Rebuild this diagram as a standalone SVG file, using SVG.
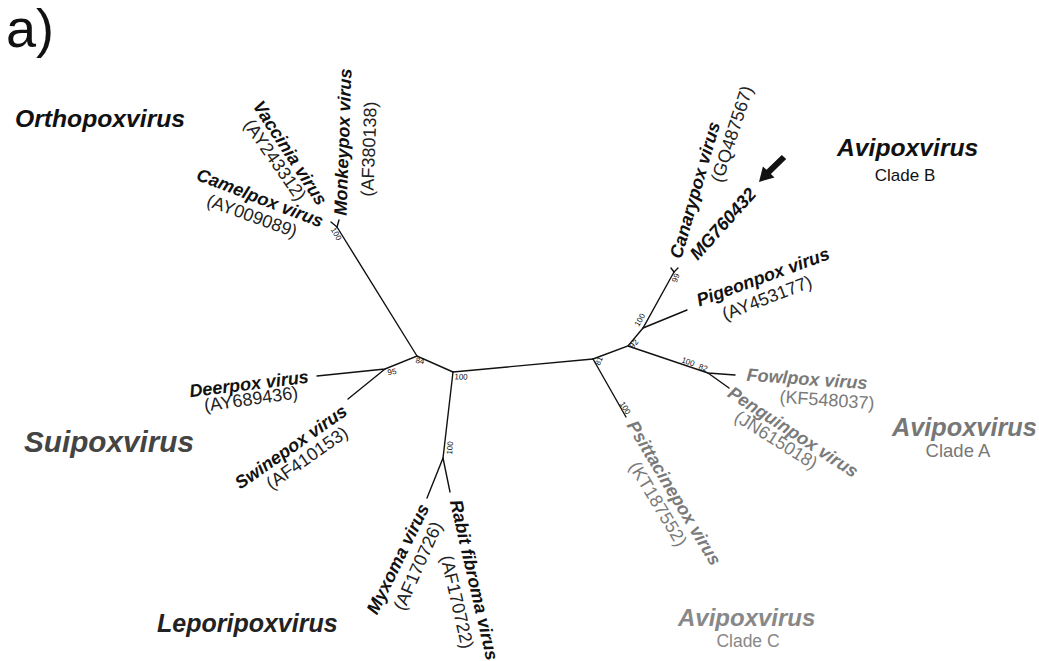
<svg xmlns="http://www.w3.org/2000/svg" width="1039" height="661" viewBox="0 0 1039 661">
<style>
.sp{font-family:"Liberation Sans",Arial,sans-serif;font-size:18px;font-weight:bold;font-style:italic;fill:#111;text-anchor:middle;dominant-baseline:central}
.ac{font-family:"Liberation Sans",Arial,sans-serif;font-size:18px;fill:#222;text-anchor:middle;dominant-baseline:central}
.g{fill:#7a7a7a}
.grp{font-family:"Liberation Sans",Arial,sans-serif;font-weight:bold;font-style:italic}
.cl{font-family:"Liberation Sans",Arial,sans-serif;text-anchor:middle}
.bs{font-family:"Liberation Sans",Arial,sans-serif;font-size:8px;fill:#111;text-anchor:middle;dominant-baseline:central}
.br{stroke:#111;stroke-width:1.4;fill:none;stroke-linecap:round}
</style>
<rect width="1039" height="661" fill="#fff"/>
<text x="6" y="47" font-family="Liberation Sans, Arial, sans-serif" font-size="54" fill="#111">a)</text>

<g id="connectors" class="br">
<path d="M453,372 L593,359"/>
<path d="M453,372 L417,356 L385,369 L317,376"/>
<path d="M385,369 L348,399"/>
<path d="M417,356 L337,227"/>
<path d="M337,227 L331,222"/>
<path d="M337,227 L339,220"/>
<path d="M453,372 L443,458 L427,498"/>
<path d="M443,458 L450,492"/>
<path d="M593,359 L626,417"/>
<path d="M593,359 L628,346 L643,328 L674,272"/>
<path d="M674,272 L671,268"/>
<path d="M674,272 L678,268"/>
<path d="M643,328 L687,310"/>
<path d="M628,346 L708,373 L735,375"/>
<path d="M708,373 L729,388"/>
</g>

<g id="bootstrap">
<text class="bs" transform="translate(336,234) rotate(60)">100</text>
<text class="bs" transform="translate(420,361) rotate(10)">84</text>
<text class="bs" transform="translate(392,372) rotate(-10)">95</text>
<text class="bs" transform="translate(461,377) rotate(3)">100</text>
<text class="bs" transform="translate(450,448) rotate(-85)">100</text>
<text class="bs" transform="translate(599,361) rotate(-65)">81</text>
<text class="bs" transform="translate(625,408) rotate(58)">100</text>
<text class="bs" transform="translate(634,344) rotate(-50)">92</text>
<text class="bs" transform="translate(640,320) rotate(-60)">100</text>
<text class="bs" transform="translate(676,278) rotate(-70)">99</text>
<text class="bs" transform="translate(688,362) rotate(20)">100</text>
<text class="bs" transform="translate(703,368) rotate(20)">82</text>
</g>

<g id="orthopoxvirus-label"><text class="grp" x="15" y="127" font-size="24.7" fill="#111">Orthopoxvirus</text></g>
<g id="suipoxvirus-label"><text class="grp" x="24" y="452" font-size="29.7" fill="#444">Suipoxvirus</text></g>
<g id="leporipoxvirus-label"><text class="grp" x="157" y="632" font-size="25" fill="#222">Leporipoxvirus</text></g>
<g id="avipox-b-label"><text class="grp" x="837" y="156" font-size="24.7" fill="#111">Avipoxvirus</text><text class="cl" x="905" y="181" font-size="17" fill="#111">Clade B</text></g>
<g id="avipox-a-label"><text class="grp" x="892" y="436" font-size="25.3" fill="#777">Avipoxvirus</text><text class="cl" x="958" y="457" font-size="18.5" fill="#777">Clade A</text></g>
<g id="avipox-c-label"><text class="grp" x="678" y="626" font-size="24" fill="#888">Avipoxvirus</text><text class="cl" x="748" y="647" font-size="17.5" fill="#888">Clade C</text></g>

<g id="monkeypox"><text class="sp" transform="translate(343,142) rotate(-88)">Monkeypox virus</text><text class="ac" transform="translate(369,149) rotate(-88)">(AF380138)</text></g>
<g id="vaccinia"><text class="sp" transform="translate(290,153) rotate(57)">Vaccinia virus</text><text class="ac" transform="translate(275,160) rotate(55)">(AY243312)</text></g>
<g id="camelpox"><text class="sp" transform="translate(260,198) rotate(21)">Camelpox virus</text><text class="ac" transform="translate(252,216) rotate(20)">(AY009089)</text></g>
<g id="deerpox"><text class="sp" transform="translate(249,384) rotate(-7)">Deerpox virus</text><text class="ac" transform="translate(251,399) rotate(-8)">(AY689436)</text></g>
<g id="swinepox"><text class="sp" transform="translate(291,447) rotate(-35)">Swinepox virus</text><text class="ac" transform="translate(307,458) rotate(-35)">(AF410153)</text></g>
<g id="myxoma"><text class="sp" transform="translate(398,559) rotate(-64)">Myxoma virus</text><text class="ac" transform="translate(418,566) rotate(-66)">(AF170726)</text></g>
<g id="rabbit-fibroma"><text class="sp" transform="translate(474,580) rotate(77)">Rabit fibroma virus</text><text class="ac" transform="translate(457,602) rotate(77)">(AF170722)</text></g>
<g id="canarypox"><text class="sp" transform="translate(695,190) rotate(-74)">Canarypox virus</text><text class="ac" transform="translate(732,134) rotate(-72)">(GQ487567)</text></g>
<g id="mg760432"><text class="sp" transform="translate(723,224) rotate(-48)">MG760432</text>
<polygon points="759,182 774.5,177.4 770.9,174 786.2,159.1 781.8,154.9 766.5,169.8 762.9,166.4" fill="#111"/></g>
<g id="pigeonpox"><text class="sp" transform="translate(763,277) rotate(-20)">Pigeonpox virus</text><text class="ac" transform="translate(767,298) rotate(-21)">(AY453177)</text></g>
<g id="fowlpox"><text class="sp g" transform="translate(807,379) rotate(4)">Fowlpox virus</text><text class="ac g" transform="translate(827,400) rotate(4)">(KF548037)</text></g>
<g id="penguinpox"><text class="sp g" transform="translate(793,432) rotate(33)">Penguinpox virus</text><text class="ac g" transform="translate(776,440) rotate(32)">(JN615018)</text></g>
<g id="psittacinepox"><text class="sp g" transform="translate(674,493) rotate(59)">Psittacinepox virus</text><text class="ac g" transform="translate(658,504) rotate(59)">(KT187552)</text></g>
</svg>
